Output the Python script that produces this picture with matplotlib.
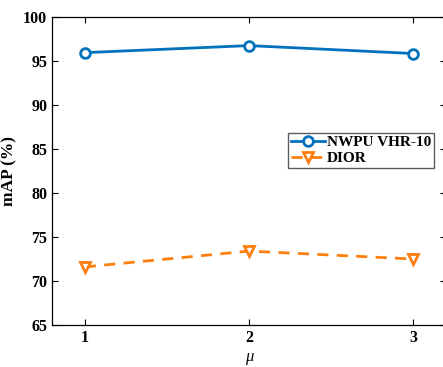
import matplotlib.pyplot as plt

mu = [1, 2, 3]
nwpu = [95.95, 96.75, 95.85]
dior = [71.6, 73.4, 72.5]

plt.rcParams['font.family'] = 'Liberation Serif'
plt.rcParams['font.weight'] = 'bold'

fig = plt.figure(figsize=(4.43, 3.67), dpi=100)
ax = fig.add_axes([52/443, 42/367, 394/443, 308/367])

ax.plot(mu, nwpu, '-o', color='#0072BD', lw=2, ms=7, mfc='white', mew=2, label='NWPU VHR-10')
ax.plot(mu, dior, '--v', color='#FF7F0E', lw=2, ms=7.5, mfc='white', mew=2, label='DIOR', dashes=(4, 3))

ax.set_xlim(0.8, 3.2)
ax.set_ylim(65, 100)
ax.set_xticks(mu)
ax.set_yticks(range(65, 101, 5))
ax.tick_params(direction='in', top=True, right=True, labelsize=11.5, length=4, width=0.8)
for s in ax.spines.values():
    s.set_linewidth(0.9)

ax.set_xlabel('μ', fontsize=12, fontstyle='italic', fontweight='normal', labelpad=2)
ax.set_ylabel('mAP (%)', fontsize=12.5, fontweight='bold')

leg = ax.legend(loc='upper left', bbox_to_anchor=(0.6, 0.625), fontsize=11,
                frameon=True, fancybox=False, edgecolor='#333333',
                handlelength=2.2, handletextpad=0.1, borderpad=0.2, labelspacing=0.15,
                borderaxespad=0)
leg.get_frame().set_linewidth(1)

fig.savefig('out.png', dpi=100)
